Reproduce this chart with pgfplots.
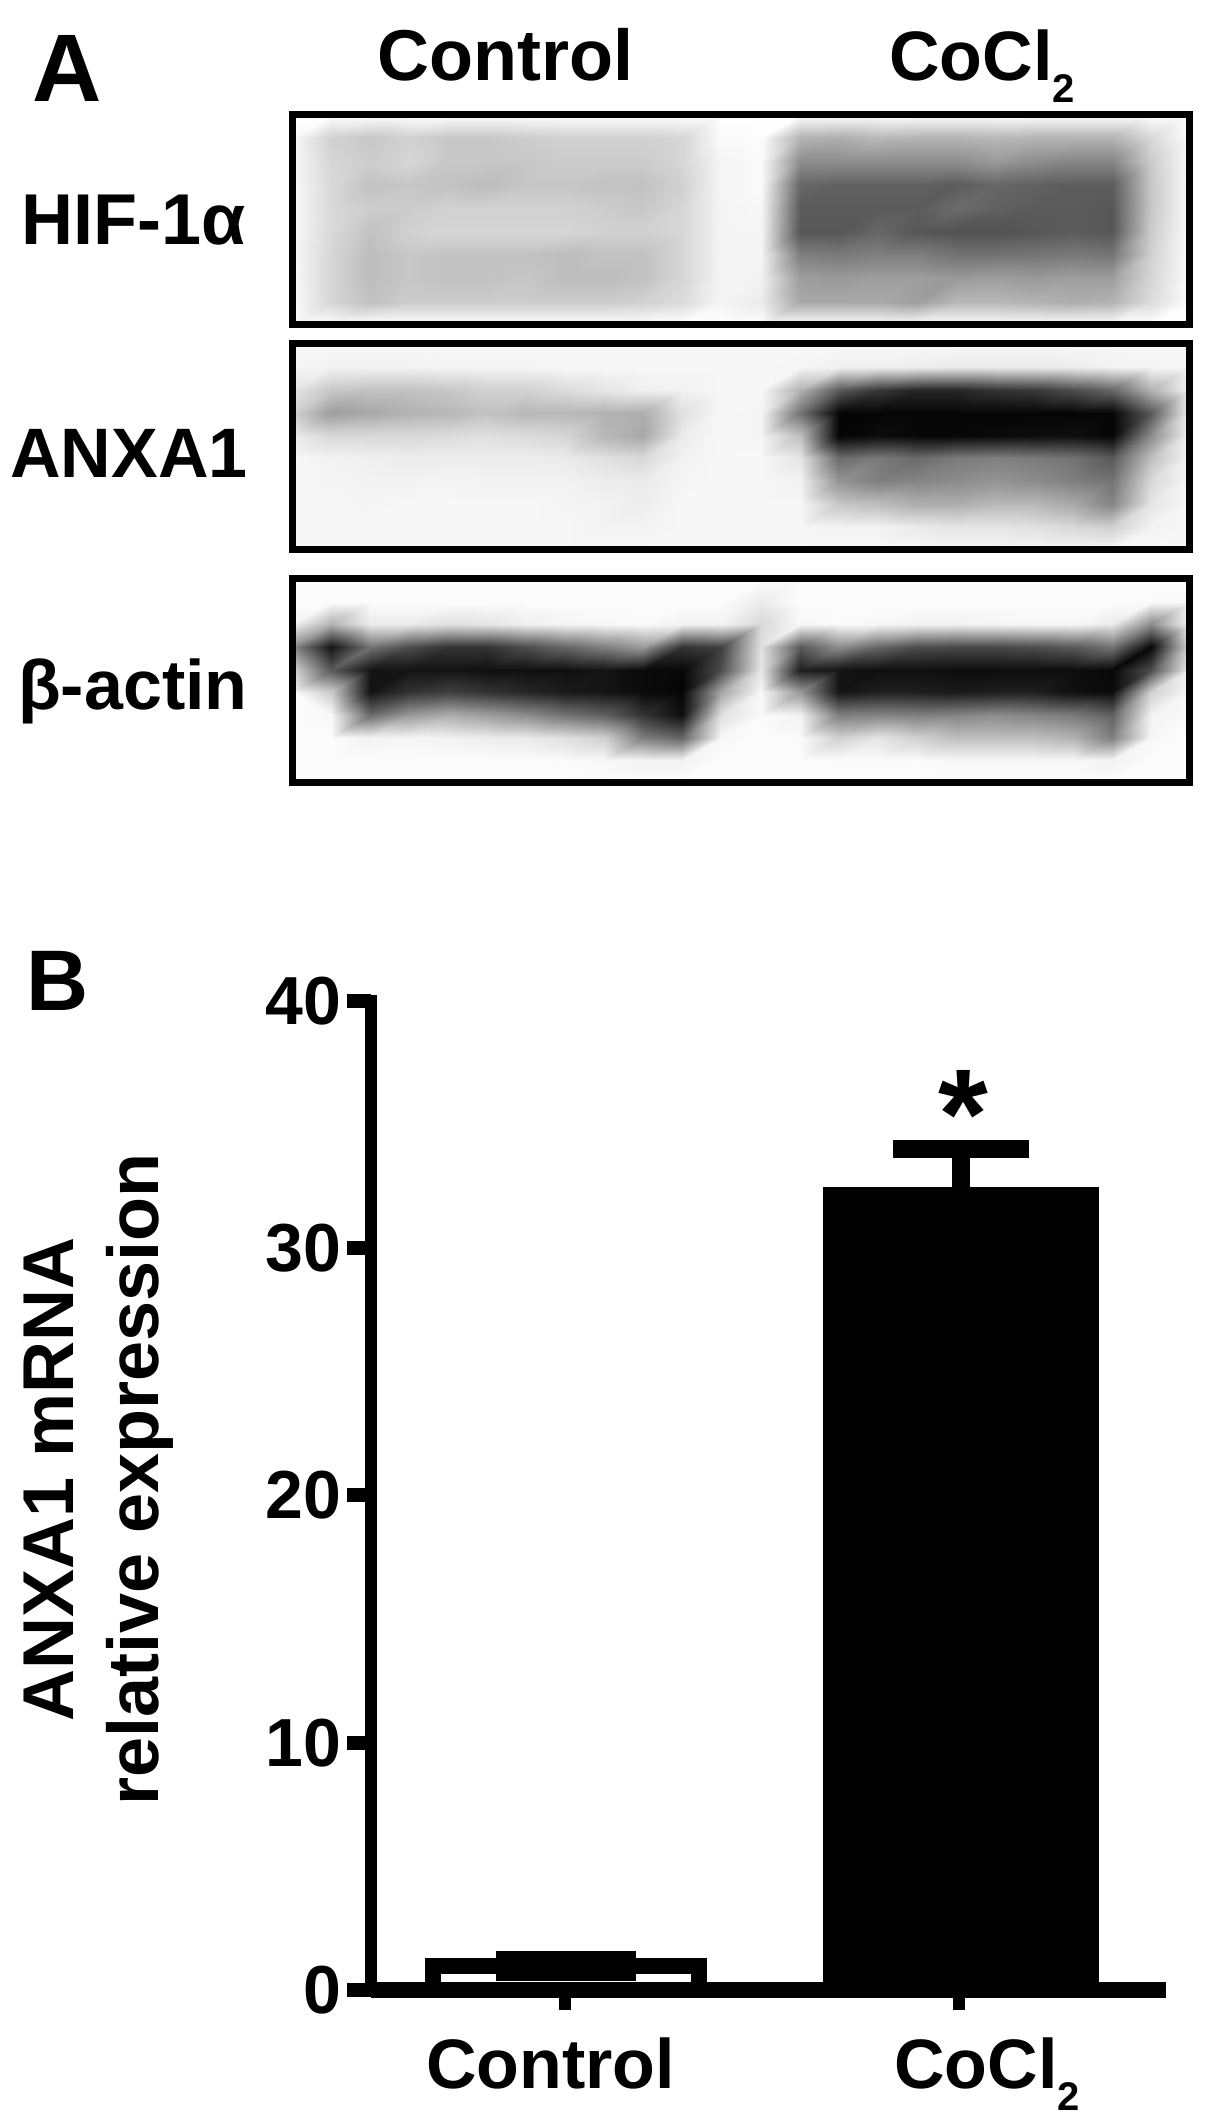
\documentclass[border=0pt]{standalone}
\usepackage{fontspec}
\setmainfont{Liberation Sans}
\usepackage{pgfplots}
\pgfplotsset{compat=1.18}
\newcommand\lab{\fontsize{35}{42.5}\selectfont\bfseries}
\newcommand\cocl{CoCl\raisebox{-11pt}{\fontsize{20}{20}\selectfont 2}}
\pgfplotsset{
  blot/.style={
    scale only axis, width=449pt, anchor=north west,
    xmin=0, xmax=23, ymin=0, ymax=9, y dir=reverse, view={0}{90},
    ticks=none, axis on top, axis line style={line width=3.5pt, line cap=rect},
    colormap/blackwhite, point meta min=0, point meta max=1},
  blotplot/.style={surf, shader=interp, mesh/cols=24},
  table/blottable/.style={row sep=\\, header=false, x expr={mod(\coordindex,24)}, y expr={floor(\coordindex/24)}, z index=0}
}
\begin{document}
\begin{tikzpicture}
\useasboundingbox (0,0) rectangle (602.5pt,1063pt);

% Panel labels and lane labels
\node[anchor=base west,inner sep=0,font=\fontsize{48}{48}\selectfont\bfseries] at (16pt,1012pt) {A};
\node[anchor=base west,inner sep=0,font=\fontsize{43}{43}\selectfont\bfseries] at (13pt,557.5pt) {B};
\node[anchor=base west,inner sep=0,font=\fontsize{36}{36}\selectfont\bfseries] at (188.5pt,1022.5pt) {Control};
\node[anchor=base west,inner sep=0,font=\lab] at (444.5pt,1022.5pt) {\cocl};
\node[anchor=base east,inner sep=0,font=\fontsize{36}{36}\selectfont\bfseries] at (123pt,940.5pt) {HIF-1α};
\node[anchor=base east,inner sep=0,font=\lab] at (124pt,824pt) {ANXA1};
\node[anchor=base east,inner sep=0,font=\lab] at (124pt,708pt) {β-actin};

% HIF-1alpha blot
\begin{axis}[blot, at={(146pt,1005.5pt)}, height=105pt]
\addplot3[blotplot] table[blottable]{
1\\1\\1\\1\\1\\1\\1\\1\\1\\1\\1\\1\\1\\1\\1\\1\\1\\1\\1\\1\\1\\1\\1\\1\\
.98\\.82\\.78\\.82\\.78\\.78\\.8\\.82\\.82\\.82\\.84\\.98\\.99\\.7\\.68\\.72\\.7\\.7\\.72\\.7\\.7\\.7\\.85\\.99\\
.98\\.84\\.8\\.84\\.78\\.78\\.78\\.8\\.8\\.8\\.84\\.96\\.98\\.55\\.55\\.55\\.55\\.55\\.6\\.55\\.52\\.52\\.8\\.99\\
.98\\.85\\.76\\.78\\.76\\.74\\.78\\.78\\.76\\.76\\.82\\.96\\.98\\.4\\.38\\.38\\.38\\.36\\.4\\.38\\.36\\.36\\.78\\.99\\
.98\\.85\\.8\\.8\\.82\\.82\\.82\\.82\\.8\\.78\\.84\\.96\\.97\\.36\\.36\\.36\\.36\\.42\\.38\\.36\\.36\\.34\\.78\\.99\\
.98\\.85\\.76\\.82\\.84\\.84\\.84\\.84\\.82\\.82\\.84\\.96\\.96\\.34\\.34\\.4\\.34\\.32\\.32\\.34\\.36\\.34\\.8\\.99\\
.98\\.84\\.74\\.78\\.76\\.76\\.76\\.74\\.76\\.76\\.84\\.96\\.96\\.5\\.48\\.5\\.5\\.45\\.45\\.46\\.48\\.46\\.82\\.99\\
.98\\.84\\.74\\.78\\.76\\.76\\.78\\.74\\.74\\.76\\.84\\.96\\.95\\.62\\.6\\.62\\.62\\.6\\.62\\.6\\.62\\.62\\.84\\.99\\
.98\\.84\\.76\\.8\\.8\\.8\\.8\\.8\\.8\\.82\\.86\\.96\\.92\\.66\\.66\\.66\\.62\\.72\\.72\\.7\\.68\\.7\\.86\\.99\\
1\\1\\1\\1\\1\\1\\1\\1\\1\\1\\1\\1\\1\\1\\1\\1\\1\\1\\1\\1\\1\\1\\1\\1\\
};
\end{axis}

% ANXA1 blot
\begin{axis}[blot, at={(146pt,891pt)}, height=103pt]
\addplot3[blotplot] table[blottable]{
.97\\.97\\.97\\.97\\.97\\.97\\.97\\.97\\.97\\.97\\.97\\.97\\.97\\.97\\.97\\.97\\.97\\.97\\.97\\.97\\.97\\.97\\.97\\.97\\
.96\\.95\\.95\\.95\\.96\\.96\\.96\\.97\\.97\\.97\\.97\\.97\\.97\\.96\\.94\\.94\\.93\\.92\\.92\\.92\\.93\\.95\\.96\\.97\\
.9\\.78\\.76\\.76\\.78\\.82\\.82\\.86\\.9\\.94\\.95\\.97\\.97\\.7\\.35\\.22\\.15\\.15\\.2\\.22\\.3\\.4\\.7\\.96\\
.82\\.62\\.66\\.7\\.72\\.76\\.72\\.72\\.7\\.68\\.88\\.97\\.96\\.45\\.02\\.02\\.02\\.02\\.02\\.02\\.02\\.02\\.35\\.95\\
.93\\.85\\.85\\.85\\.86\\.88\\.86\\.84\\.72\\.66\\.92\\.97\\.96\\.75\\.02\\.05\\.03\\.03\\.04\\.05\\.06\\.02\\.55\\.96\\
.97\\.95\\.94\\.93\\.93\\.93\\.93\\.92\\.88\\.85\\.95\\.97\\.97\\.9\\.42\\.48\\.42\\.48\\.5\\.48\\.45\\.35\\.75\\.97\\
.97\\.96\\.95\\.95\\.96\\.95\\.95\\.95\\.93\\.92\\.96\\.97\\.97\\.95\\.58\\.5\\.52\\.55\\.58\\.55\\.5\\.45\\.85\\.97\\
.97\\.97\\.96\\.97\\.97\\.97\\.97\\.96\\.95\\.93\\.97\\.97\\.97\\.97\\.78\\.74\\.68\\.68\\.72\\.72\\.66\\.52\\.9\\.97\\
.97\\.97\\.97\\.97\\.97\\.97\\.97\\.97\\.95\\.95\\.97\\.97\\.97\\.97\\.95\\.95\\.92\\.9\\.9\\.88\\.85\\.82\\.95\\.97\\
.97\\.97\\.97\\.97\\.97\\.97\\.97\\.97\\.97\\.97\\.97\\.97\\.97\\.97\\.97\\.97\\.97\\.97\\.97\\.97\\.97\\.97\\.97\\.97\\
};
\end{axis}

% beta-actin blot
\begin{axis}[blot, at={(146pt,773.5pt)}, height=102pt]
\addplot3[blotplot] table[blottable]{
.99\\.99\\.99\\.99\\.99\\.99\\.99\\.99\\.99\\.99\\.99\\.99\\.99\\.99\\.99\\.99\\.99\\.99\\.99\\.99\\.99\\.99\\.99\\.99\\
.99\\.99\\.99\\.99\\.99\\.99\\.99\\.99\\.99\\.99\\.99\\.99\\.92\\.99\\.99\\.99\\.99\\.99\\.99\\.99\\.99\\.99\\.98\\.98\\
.95\\.7\\.92\\.92\\.88\\.9\\.94\\.96\\.97\\.98\\.95\\.95\\.85\\.97\\.98\\.97\\.95\\.95\\.96\\.97\\.97\\.92\\.55\\.97\\
.55\\.08\\.45\\.3\\.2\\.2\\.3\\.4\\.5\\.6\\.2\\.25\\.88\\.35\\.55\\.4\\.3\\.28\\.28\\.3\\.35\\.45\\.03\\.85\\
.85\\.35\\.08\\.08\\.08\\.06\\.06\\.06\\.08\\.04\\.03\\.3\\.9\\.12\\.08\\.06\\.06\\.05\\.05\\.05\\.05\\.03\\.3\\.95\\
.98\\.8\\.08\\.2\\.25\\.2\\.15\\.1\\.08\\.04\\.02\\.65\\.97\\.6\\.08\\.12\\.12\\.1\\.12\\.12\\.06\\.04\\.82\\.97\\
.99\\.97\\.42\\.6\\.68\\.62\\.55\\.45\\.38\\.2\\.06\\.88\\.98\\.95\\.5\\.52\\.5\\.52\\.55\\.52\\.48\\.38\\.95\\.98\\
.99\\.99\\.95\\.96\\.95\\.93\\.92\\.88\\.82\\.5\\.4\\.97\\.99\\.98\\.82\\.9\\.82\\.75\\.75\\.75\\.7\\.5\\.97\\.99\\
.99\\.99\\.99\\.99\\.99\\.99\\.99\\.98\\.97\\.95\\.95\\.99\\.99\\.99\\.98\\.98\\.98\\.97\\.97\\.97\\.97\\.95\\.99\\.99\\
.99\\.99\\.99\\.99\\.99\\.99\\.99\\.99\\.99\\.99\\.99\\.99\\.99\\.99\\.99\\.99\\.99\\.99\\.99\\.99\\.99\\.99\\.99\\.99\\
};
\end{axis}

% Bar chart
\begin{axis}[
  scale only axis, anchor=south west, at={(185.5pt,68pt)},
  width=397.5pt, height=494.5pt,
  xmin=-0.4905, xmax=1.5247, ymin=0, ymax=40,
  clip=false, axis on top,
  axis x line*=bottom, axis y line*=left,
  x axis line style={line width=8pt},
  y axis line style={line width=6pt, line cap=rect},
  tick align=outside,
  xtick={0,1},
  xticklabels={\hspace*{-14pt}Control,\hspace*{28pt}\cocl},
  ytick={0,10,20,30,40},
  xtick style={line width=6pt, black, /pgfplots/major tick length=10pt},
  ytick style={line width=7pt, black, /pgfplots/major tick length=12pt},
  /pgf/number format/assume math mode=true,
  yticklabel style={font=\fontsize{34}{34}\selectfont\bfseries, inner xsep=10.5pt},
  xticklabel style={font=\lab, anchor=base, yshift=-45pt},
  every axis y label/.style={at={(axis description cs:-0.342,0.516)}, rotate=90, anchor=center, align=center, font=\fontsize{36}{42.5}\selectfont\bfseries},
  ylabel={ANXA1 mRNA\\relative expression},
]
\addplot[ybar, bar shift=0pt, bar width=133pt, fill=white, draw=black, line width=8pt,
  error bars/.cd, y dir=both, y explicit,
  error bar style={line width=9pt, black},
  error mark options={rotate=90, mark size=35pt, line width=9pt, black}]
  coordinates {(0.004,0.97) +- (0,0.24)};
\addplot[ybar, bar shift=0pt, bar width=138pt, fill=black, draw=none,
  error bars/.cd, y dir=plus, y explicit,
  error bar style={line width=9pt, black},
  error mark options={rotate=90, mark size=34pt, line width=9pt, black}]
  coordinates {(1.005,32.48) +- (0,1.52)};
\node[anchor=base, inner sep=0, font=\fontsize{64}{64}\selectfont\bfseries] at (axis cs:1.01,33.65) {*};
\end{axis}
\end{tikzpicture}
\end{document}
